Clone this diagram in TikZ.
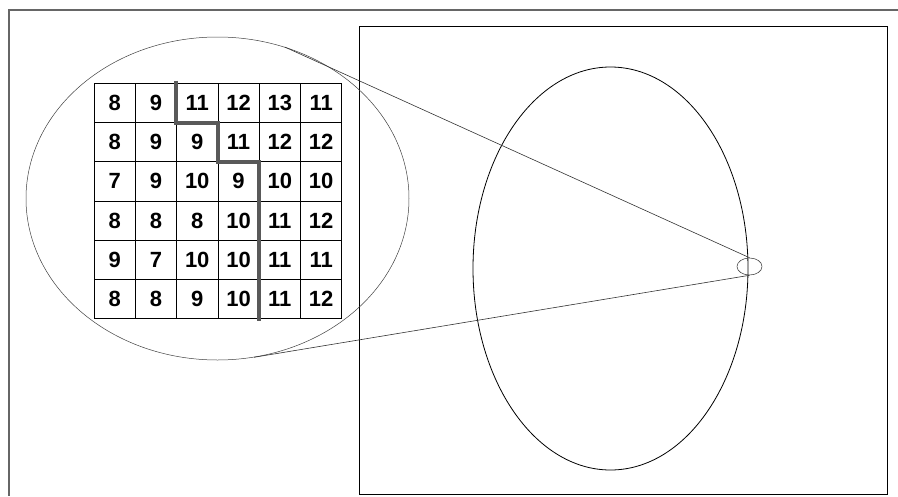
\documentclass[tikz,border=0pt]{standalone}
\usepackage{fontspec}
\setmainfont{Liberation Sans}
\usetikzlibrary{positioning,shapes.geometric}

\begin{document}
\begin{tikzpicture}[x=1pt,y=-1pt,
  cell/.style={draw,line width=0.8pt,minimum width=41.3pt,minimum height=39.3pt,inner sep=0pt,font=\bfseries\fontsize{22}{22}\selectfont},
  ring/.style={draw,ellipse,inner sep=0pt},
  zoomline/.style={draw=black!80,line width=0.6pt},
  trench/.style={draw=black!65,line width=4pt}]
\useasboundingbox (0,0) rectangle (898,496);
\draw[black!60,line width=1.2pt] (898,10) -- (9,10) -- (9,496);
\draw[line width=0.9pt] (359,26) rectangle (887,494);
\node[ring,line width=0.8pt,minimum width=275pt,minimum height=403pt] (wafer) at (610.5,268.5) {};
\node[ring,draw=black!70,line width=0.6pt,minimum width=25pt,minimum height=17pt] (spot) at (749.5,266.5) {};
\node[ring,draw=black!75,line width=0.5pt,minimum width=383pt,minimum height=323pt] (lens) at (217.5,198.5) {};
\foreach \vals [count=\r] in {{8,9,11,12,13,11},{8,9,9,11,12,12},{7,9,10,9,10,10},{8,8,8,10,11,12},{9,7,10,10,11,11},{8,8,9,10,11,12}}
  \foreach \v [count=\c] in \vals
    \node[cell] (c\r\c) at ({94+41.3*(\c-0.5)},{83+39.3*(\r-0.5)}) {\v};
\draw[trench] ([yshift=2pt]c13.north west) -- (c13.south west) -- (c14.south west) -- (c24.south west) -- (c25.south west) -- ([yshift=-2pt]c65.south west);
\draw[zoomline] (lens.66) -- (spot.north);
\draw[zoomline] (lens.283) -- (spot.south);
\end{tikzpicture}
\end{document}
